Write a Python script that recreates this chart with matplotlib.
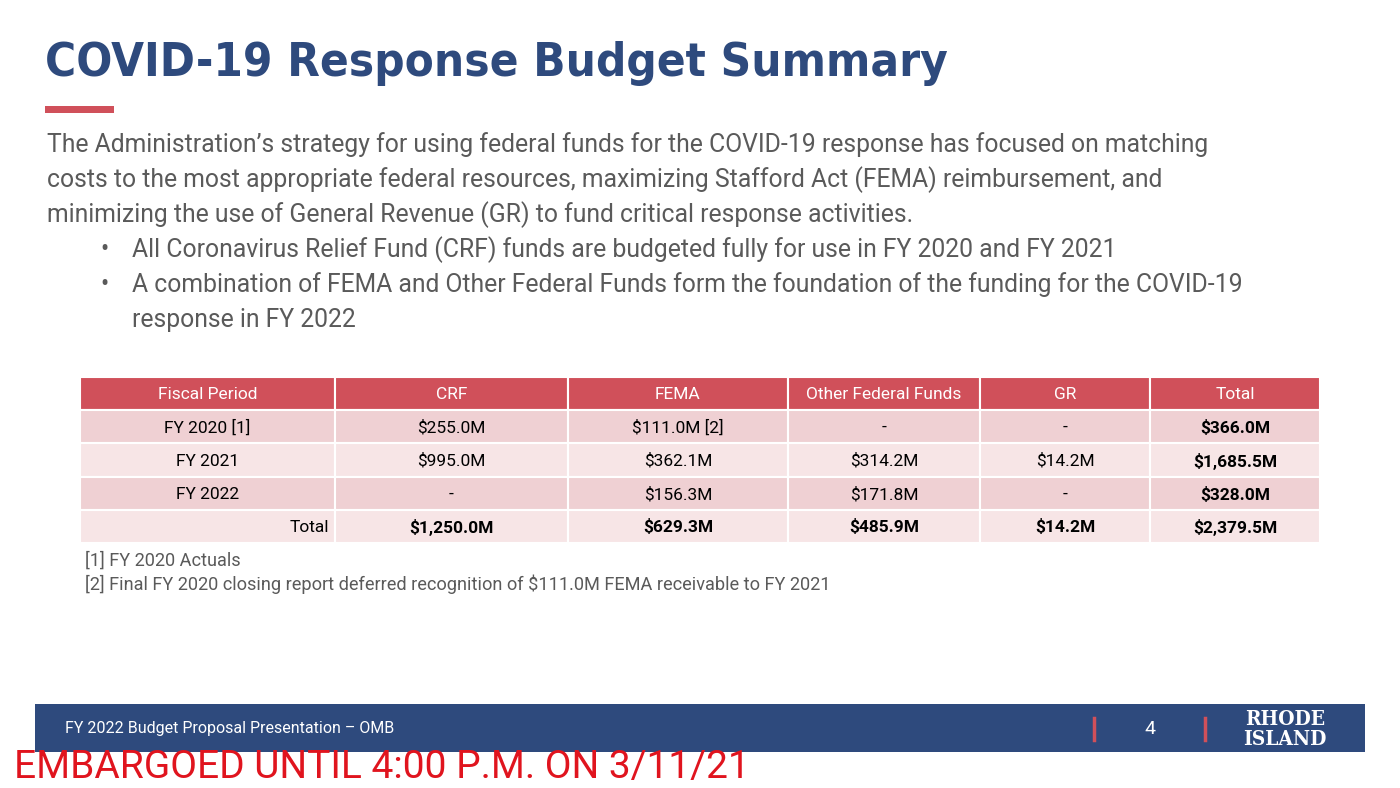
import matplotlib.pyplot as plt
from matplotlib.patches import Rectangle

# table data
columns = ["Fiscal Period", "CRF", "FEMA", "Other Federal Funds", "GR", "Total"]
periods = ["FY 2020 [1]", "FY 2021", "FY 2022", "Total"]
crf = ["$255.0M", "$995.0M", "-", "$1,250.0M"]
fema = ["$111.0M [2]", "$362.1M", "$156.3M", "$629.3M"]
other = ["-", "$314.2M", "$171.8M", "$485.9M"]
gr = ["-", "$14.2M", "-", "$14.2M"]
total = ["$366.0M", "$1,685.5M", "$328.0M", "$2,379.5M"]

intro = ["The Administration\u2019s strategy for using federal funds for the COVID-19 response has focused on matching",
         "costs to the most appropriate federal resources, maximizing Stafford Act (FEMA) reimbursement, and",
         "minimizing the use of General Revenue (GR) to fund critical response activities."]
bullets = [["All Coronavirus Relief Fund (CRF) funds are budgeted fully for use in FY 2020 and FY 2021"],
           ["A combination of FEMA and Other Federal Funds form the foundation of the funding for the COVID-19",
            "response in FY 2022"]]
notes = ["[1] FY 2020 Actuals",
         "[2] Final FY 2020 closing report deferred recognition of $111.0M FEMA receivable to FY 2021"]

navy = "#2E4A7D"
red = "#D0505A"
grey = "#5A5A5A"
body = ["Roboto", "DejaVu Sans"]

fig = plt.figure(figsize=(14, 7.88), dpi=100)
ax = fig.add_axes([0, 0, 1, 1])
ax.set_xlim(0, 1400)
ax.set_ylim(788, 0)
ax.axis("off")

ax.text(45, 63, "COVID-19 Response Budget Summary", fontsize=34, fontweight="bold",
        color=navy, va="center", family="DejaVu Sans", fontstretch="condensed")
ax.add_patch(Rectangle((45, 106), 69, 7, color=red, lw=0))

y = 145
for line in intro:
    ax.text(47, y, line, fontsize=17.8, color=grey, va="center", family=body)
    y += 35
for b in bullets:
    ax.text(100, y, "\u2022", fontsize=17.8, color=grey, va="center", family=body)
    for line in b:
        ax.text(132, y, line, fontsize=17.8, color=grey, va="center", family=body)
        y += 35

# table
edges = [80, 335, 568, 788, 980, 1150, 1320]
rows_y = [377, 410, 443, 477, 510, 543]
row_colors = ["#EFD0D3", "#F7E5E6", "#EFD0D3", "#F7E5E6"]
for i, c in enumerate(columns):
    ax.add_patch(Rectangle((edges[i], rows_y[0]), edges[i + 1] - edges[i], rows_y[1] - rows_y[0],
                           facecolor=red, edgecolor="white", lw=1.5))
    ax.text((edges[i] + edges[i + 1]) / 2, (rows_y[0] + rows_y[1]) / 2 + 1, c, color="white",
            fontsize=12.5, ha="center", va="center", family=body)
cols = [periods, crf, fema, other, gr, total]
for r in range(len(periods)):
    y0, y1 = rows_y[r + 1], rows_y[r + 2]
    for i, col in enumerate(cols):
        ax.add_patch(Rectangle((edges[i], y0), edges[i + 1] - edges[i], y1 - y0,
                               facecolor=row_colors[r], edgecolor="white", lw=1.5))
        bold = (r == 3 and i > 0) or i == 5
        if r == 3 and i == 0:
            ax.text(edges[1] - 6, (y0 + y1) / 2 + 1, col[r], fontsize=12.5, ha="right",
                    va="center", color="black", family=body)
        else:
            ax.text((edges[i] + edges[i + 1]) / 2, (y0 + y1) / 2 + 1, col[r], fontsize=12.5,
                    ha="center", va="center", color="black", family=body,
                    fontweight="bold" if bold else "normal")

for k, n in enumerate(notes):
    ax.text(85, 561 + k * 23, n, fontsize=13.1, color=grey, va="center", family=body)

# footer
ax.add_patch(Rectangle((35, 704), 1330, 48, color=navy, lw=0))
ax.text(65, 729, "FY 2022 Budget Proposal Presentation \u2013 OMB", fontsize=11.5, color="white",
        va="center", family=body)
ax.plot([1094, 1094], [718, 740], color=red, lw=2.5)
ax.plot([1205, 1205], [718, 740], color=red, lw=2.5)
ax.text(1150, 729, "4", fontsize=14, color="white", ha="center", va="center", family=body)
ax.text(1285, 719, "RHODE", fontsize=15, color="white", ha="center", va="center",
        fontweight="bold", family=["DejaVu Serif"], fontstretch="condensed")
ax.text(1285, 739, "ISLAND", fontsize=15, color="white", ha="center", va="center",
        fontweight="bold", family=["DejaVu Serif"], fontstretch="condensed")
ax.text(14, 767, "EMBARGOED UNTIL 4:00 P.M. ON 3/11/21", fontsize=28, color="#E0141E",
        va="center", family=body)

fig.savefig("out.png", dpi=100)
